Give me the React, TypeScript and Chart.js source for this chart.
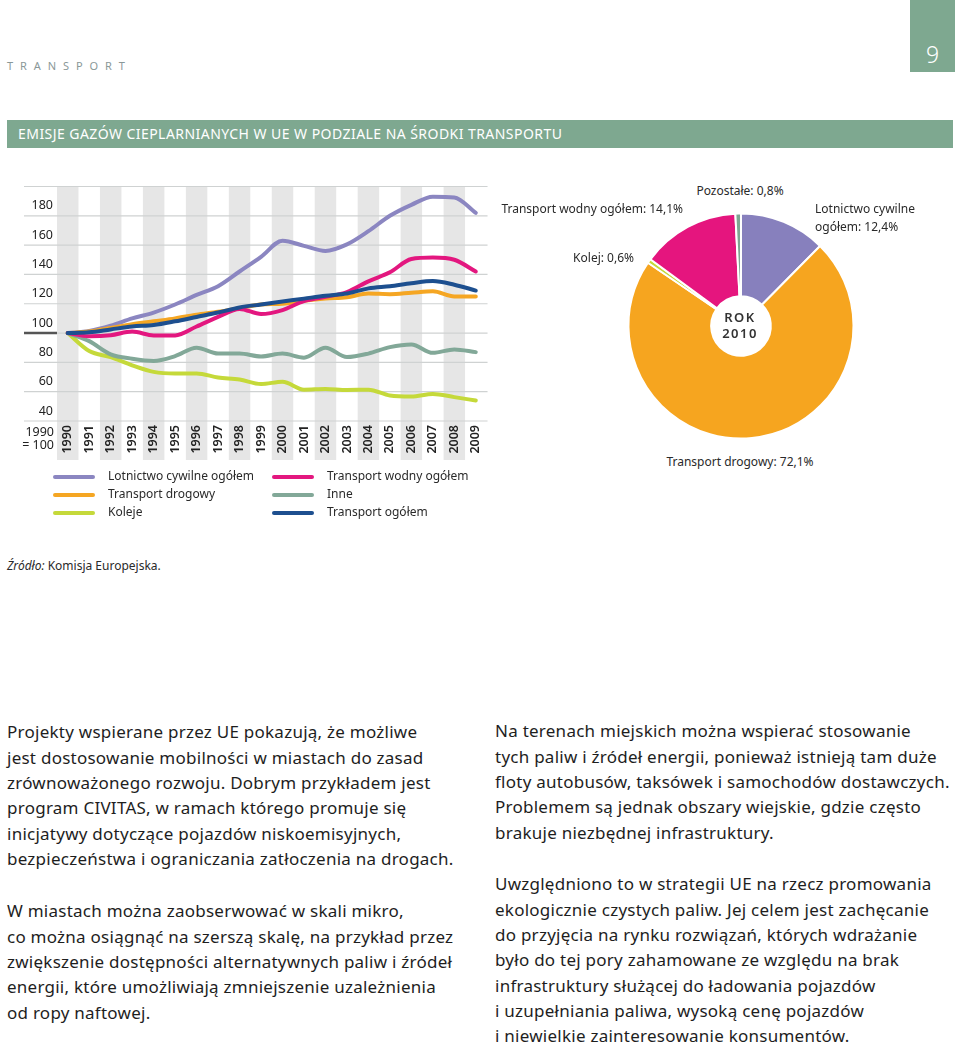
import React, { useEffect, useRef } from "react";
import { Chart, registerables } from "chart.js";

Chart.register(...registerables);

// ---------- DATA ----------
const years = [
  "1990", "1991", "1992", "1993", "1994", "1995", "1996", "1997", "1998", "1999",
  "2000", "2001", "2002", "2003", "2004", "2005", "2006", "2007", "2008", "2009",
];
const lotnictwo = [100, 101.5, 105, 110, 114, 119.5, 126, 132, 142, 152, 163, 159.5, 156, 160.5, 169.5, 180, 187.5, 193, 192.5, 182];
const drogowy = [100, 101, 103.5, 106, 108, 110, 112.5, 114.5, 117, 119.5, 120, 122, 123.5, 124.5, 127, 126.5, 127.5, 128.5, 125, 125];
const koleje = [100, 87.7, 83.6, 78, 73.5, 72.4, 72.4, 69.7, 68.3, 65.2, 66.8, 61.4, 61.9, 61.2, 61.4, 57.4, 56.7, 58.5, 56.3, 54];
const wodny = [100, 97.8, 98.5, 101, 98.4, 98.4, 104.5, 111, 116.5, 113, 115.7, 121.8, 124.7, 128, 135.3, 141.5, 150.5, 151.5, 150, 142];
const inne = [100, 94.5, 85.5, 82.5, 81, 84.3, 90, 86, 86, 84, 86, 83.2, 90, 83.6, 86, 90.4, 92.2, 86.5, 88.8, 87];
const ogolem = [100, 100.5, 102.5, 104.5, 105.5, 108, 111, 114, 117.5, 119.5, 121.5, 123.5, 125.5, 127, 130.5, 132, 134, 135.5, 133, 129];

const yMin = 40;
const yMax = 200;
const yStep = 20;

const pieLabels = ["Lotnictwo cywilne ogółem", "Transport drogowy", "Kolej", "Transport wodny ogółem", "Pozostałe"];
const pieValues = [12.4, 72.1, 0.6, 14.1, 0.8];

// ---------- STYLE ----------
const C = {
  purple: "#8b86c1",
  orange: "#f5a623",
  lime: "#c5d93a",
  magenta: "#e3177f",
  inne: "#82a898",
  blue: "#1d4f8f",
  piePurple: "#8780bd",
  pieOrange: "#f6a51f",
  pieLime: "#c5d93a",
  pieMagenta: "#e5157e",
  pieGray: "#7fa592",
  green: "#7ea890",
};
const FONT = "'Noto Sans', 'DejaVu Sans', sans-serif";

const legendItems = [
  { label: "Lotnictwo cywilne ogółem", color: C.purple, col: 0, row: 0 },
  { label: "Transport drogowy", color: C.orange, col: 0, row: 1 },
  { label: "Koleje", color: C.lime, col: 0, row: 2 },
  { label: "Transport wodny ogółem", color: C.magenta, col: 1, row: 0 },
  { label: "Inne", color: C.inne, col: 1, row: 1 },
  { label: "Transport ogółem", color: C.blue, col: 1, row: 2 },
];

const leftP1 = [
  "Projekty wspierane przez UE pokazują, że możliwe",
  "jest dostosowanie mobilności w miastach do zasad",
  "zrównoważonego rozwoju. Dobrym przykładem jest",
  "program CIVITAS, w ramach którego promuje się",
  "inicjatywy dotyczące pojazdów niskoemisyjnych,",
  "bezpieczeństwa i ograniczania zatłoczenia na drogach.",
];
const leftP2 = [
  "W miastach można zaobserwować w skali mikro,",
  "co można osiągnąć na szerszą skalę, na przykład przez",
  "zwiększenie dostępności alternatywnych paliw i źródeł",
  "energii, które umożliwiają zmniejszenie uzależnienia",
  "od ropy naftowej.",
];
const rightP1 = [
  "Na terenach miejskich można wspierać stosowanie",
  "tych paliw i źródeł energii, ponieważ istnieją tam duże",
  "floty autobusów, taksówek i samochodów dostawczych.",
  "Problemem są jednak obszary wiejskie, gdzie często",
  "brakuje niezbędnej infrastruktury.",
];
const rightP2 = [
  "Uwzględniono to w strategii UE na rzecz promowania",
  "ekologicznie czystych paliw. Jej celem jest zachęcanie",
  "do przyjęcia na rynku rozwiązań, których wdrażanie",
  "było do tej pory zahamowane ze względu na brak",
  "infrastruktury służącej do ładowania pojazdów",
  "i uzupełniania paliwa, wysoką cenę pojazdów",
  "i niewielkie zainteresowanie konsumentów.",
];

const LINE_TOP = 175;

const bandsPlugin = {
  id: "bands",
  beforeDraw(chart: any) {
    const { ctx, chartArea, scales } = chart;
    const x = scales.x;
    const y = scales.y;
    const w = (chartArea.right - chartArea.left) / years.length;
    ctx.save();
    ctx.fillStyle = "#e6e6e6";
    years.forEach((_, i) => {
      if (i % 2 === 0) {
        const cx = x.getPixelForValue(i);
        ctx.fillRect(cx - w / 2, chartArea.top, w, chart.height - 10 - chartArea.top);
      }
    });
    ctx.strokeStyle = "#cfd2d2";
    ctx.lineWidth = 1.2;
    y.ticks.forEach((t: any) => {
      const py = y.getPixelForValue(t.value);
      ctx.beginPath();
      ctx.moveTo(24, py);
      ctx.lineTo(chartArea.right + 1, py);
      ctx.stroke();
    });
    const p100 = y.getPixelForValue(100);
    ctx.strokeStyle = "#555";
    ctx.lineWidth = 2.5;
    ctx.beginPath();
    ctx.moveTo(24, p100);
    ctx.lineTo(chartArea.left, p100);
    ctx.stroke();
    ctx.restore();
  },
};

function LineChart() {
  const ref = useRef<HTMLCanvasElement>(null);
  useEffect(() => {
    const ds = (label: string, data: number[], color: string) => ({
      label,
      data,
      borderColor: color,
      backgroundColor: color,
      borderWidth: 4,
      pointRadius: 0,
      cubicInterpolationMode: "monotone" as const,
      borderCapStyle: "round" as const,
      borderJoinStyle: "round" as const,
      fill: false,
    });
    const chart = new Chart(ref.current!, {
      type: "line",
      data: {
        labels: years,
        datasets: [
          ds("Transport ogółem", ogolem, C.blue),
          ds("Transport wodny ogółem", wodny, C.magenta),
          ds("Transport drogowy", drogowy, C.orange),
          ds("Lotnictwo cywilne ogółem", lotnictwo, C.purple),
          ds("Inne", inne, C.inne),
          ds("Koleje", koleje, C.lime),
        ],
      },
      options: {
        animation: false,
        responsive: false,
        layout: { padding: { top: 8, right: 8, left: 0, bottom: 0 } },
        plugins: { legend: { display: false }, tooltip: { enabled: false } },
        scales: {
          x: {
            type: "category",
            offset: true,
            grid: { display: false, drawTicks: false },
            border: { display: false },
            ticks: {
              autoSkip: false,
              minRotation: 90,
              maxRotation: 90,
              padding: 4,
              color: "#222",
              font: { family: FONT, size: 12.5, weight: 600 },
            },
            afterFit: (s: any) => {
              s.height = 49;
            },
          },
          y: {
            min: yMin,
            max: yMax,
            grid: { display: false, drawTicks: false },
            border: { display: false },
            ticks: {
              stepSize: yStep,
              labelOffset: -10,
              padding: 4,
              color: "#222",
              font: { family: FONT, size: 12.5 },
              callback: (v: any) => (v === yMax ? "" : String(v)),
            },
            afterFit: (s: any) => {
              s.width = 57;
            },
          },
        },
      },
      plugins: [bandsPlugin],
    } as any);
    return () => chart.destroy();
  }, []);
  return (
    <canvas
      ref={ref}
      width={495}
      height={295}
      style={{ position: "absolute", left: 0, top: LINE_TOP, width: 495, height: 295 }}
    />
  );
}

function PieChart() {
  const ref = useRef<HTMLCanvasElement>(null);
  useEffect(() => {
    const chart = new Chart(ref.current!, {
      type: "doughnut",
      data: {
        labels: pieLabels,
        datasets: [
          {
            data: pieValues,
            backgroundColor: [C.piePurple, C.pieOrange, C.pieLime, C.pieMagenta, C.pieGray],
            borderColor: "#ffffff",
            borderWidth: 2,
          },
        ],
      },
      options: {
        animation: false,
        responsive: false,
        radius: 112.5,
        cutout: "26.5%",
        layout: { padding: 0 },
        plugins: { legend: { display: false }, tooltip: { enabled: false } },
      },
    } as any);
    return () => chart.destroy();
  }, []);
  return (
    <canvas
      ref={ref}
      width={242}
      height={240}
      style={{ position: "absolute", left: 620, top: 206, width: 242, height: 240 }}
    />
  );
}

const abs = (extra: React.CSSProperties): React.CSSProperties => ({
  position: "absolute",
  whiteSpace: "nowrap",
  fontFamily: FONT,
  ...extra,
});

function Para({ lines, left, top }: { lines: string[]; left: number; top: number }) {
  return (
    <div style={abs({ left, top, fontSize: 17, letterSpacing: 0.25, lineHeight: "25.3px", color: "#1e1e1e" })}>
      {lines.map((l, i) => (
        <div key={i}>{l}</div>
      ))}
    </div>
  );
}

export default function App() {
  const lbl: React.CSSProperties = { fontSize: 12, color: "#2a2a2a", lineHeight: "16px" };
  return (
    <div style={{ position: "absolute", left: 0, top: 0, width: 960, height: 1046, background: "#fff", overflow: "hidden" }}>
      {/* header */}
      <div style={abs({ left: 7, top: 58, fontSize: 11, letterSpacing: 6.9, color: "#8a9898", lineHeight: "16px" })}>TRANSPORT</div>
      <div style={{ position: "absolute", left: 910, top: 0, width: 45, height: 72, background: C.green }} />
      <div style={abs({ left: 910, top: 38, width: 45, textAlign: "center", fontSize: 23, fontWeight: 300, color: "#fff", lineHeight: "32px" })}>9</div>

      {/* title bar */}
      <div style={{ position: "absolute", left: 7, top: 120, width: 946, height: 28, background: C.green }} />
      <div style={abs({ left: 18, top: 124, fontSize: 14, letterSpacing: 0.45, color: "#fff", lineHeight: "20px" })}>
        EMISJE GAZÓW CIEPLARNIANYCH W UE W PODZIALE NA ŚRODKI TRANSPORTU
      </div>

      <LineChart />
      <div style={abs({ left: 0, top: 425, width: 54, textAlign: "right", fontSize: 12.5, color: "#222", lineHeight: "13px" })}>
        <div>1990</div>
        <div>= 100</div>
      </div>

      {/* legend */}
      {legendItems.map((it, i) => {
        const x = it.col === 0 ? 53 : 272;
        const y = 477 + it.row * 18;
        return (
          <React.Fragment key={i}>
            <div style={{ position: "absolute", left: x, top: y - 2.25, width: 42, height: 4.5, borderRadius: 2.5, background: it.color }} />
            <div style={abs({ ...lbl, left: x + 55, top: y - 9 })}>{it.label}</div>
          </React.Fragment>
        );
      })}

      <PieChart />
      <div style={abs({ left: 700, top: 309, width: 80, textAlign: "center", fontSize: 13, fontWeight: 600, letterSpacing: 1.5, color: "#333", lineHeight: "16px" })}>
        <div>ROK</div>
        <div>2010</div>
      </div>

      {/* pie labels */}
      <div style={abs({ ...lbl, left: 640, top: 183, width: 200, textAlign: "center" })}>Pozostałe: 0,8%</div>
      <div style={abs({ ...lbl, left: 433, top: 201, width: 250, textAlign: "right" })}>Transport wodny ogółem: 14,1%</div>
      <div style={abs({ ...lbl, left: 815, top: 200, lineHeight: "18px" })}>
        <div>Lotnictwo cywilne</div>
        <div>ogółem: 12,4%</div>
      </div>
      <div style={abs({ ...lbl, left: 484, top: 250, width: 150, textAlign: "right" })}>Kolej: 0,6%</div>
      <div style={abs({ ...lbl, left: 640, top: 454, width: 200, textAlign: "center" })}>Transport drogowy: 72,1%</div>

      {/* source */}
      <div style={abs({ ...lbl, left: 7, top: 558 })}>
        <i>Źródło:</i> Komisja Europejska.
      </div>

      <Para lines={leftP1} left={7} top={719.4} />
      <Para lines={leftP2} left={7} top={898.4} />
      <Para lines={rightP1} left={495} top={718.4} />
      <Para lines={rightP2} left={495} top={871.4} />
    </div>
  );
}
